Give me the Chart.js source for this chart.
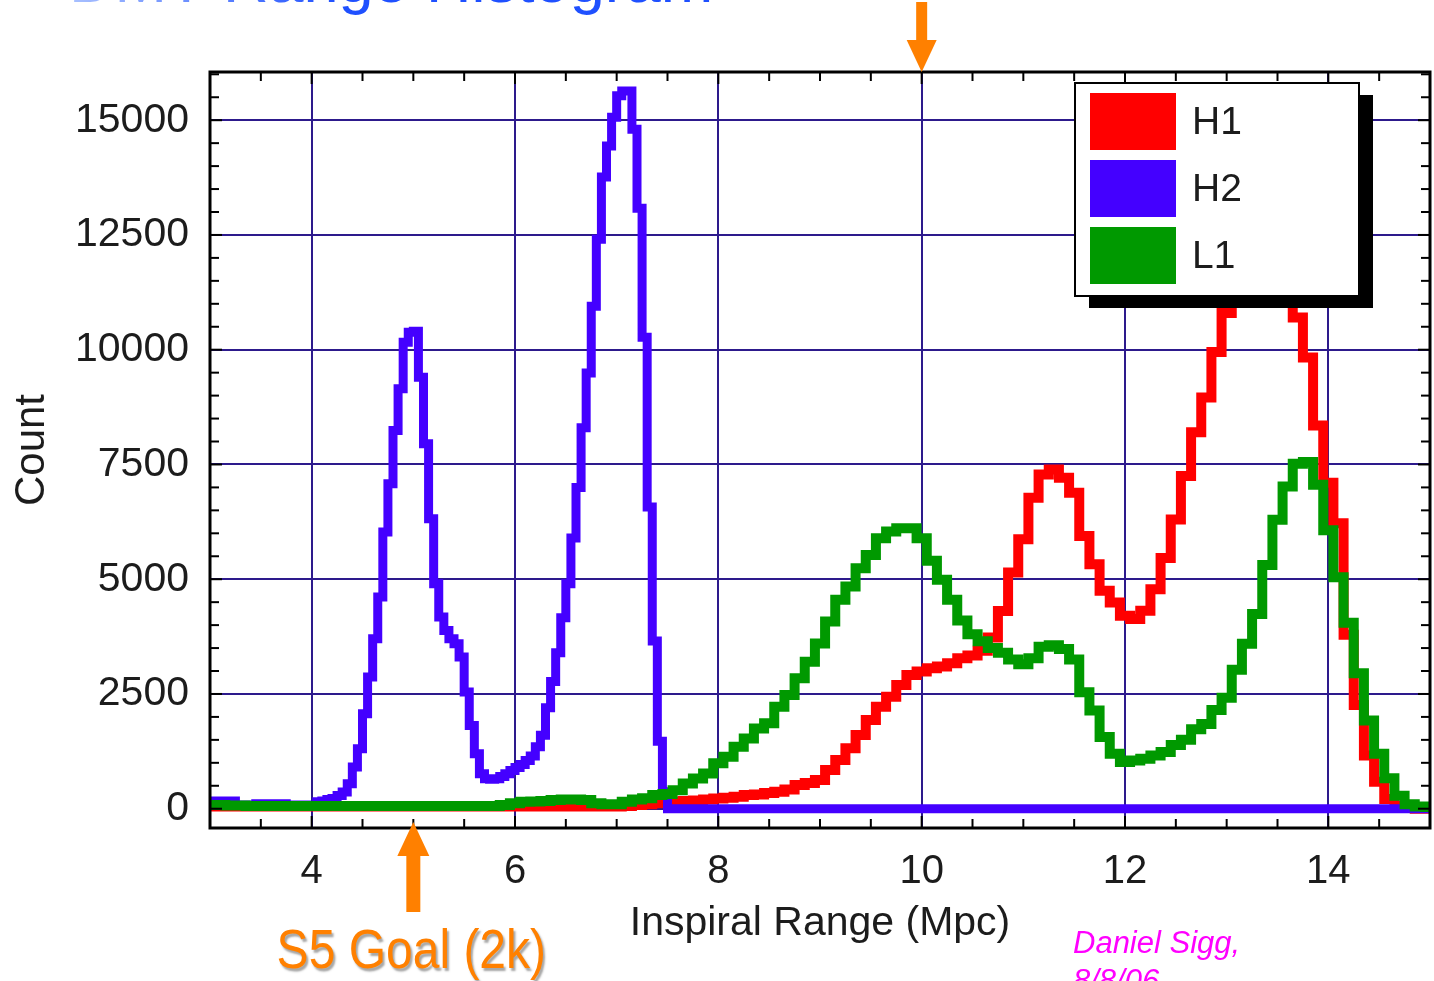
<!DOCTYPE html>
<html>
<head>
<meta charset="utf-8">
<script src="https://cdn.jsdelivr.net/npm/chart.js@4.4.0/dist/chart.umd.min.js"></script>
<style>
html, body { margin: 0; padding: 0; background: #fff; }
#wrap { width: 1434px; height: 981px; }
</style>
</head>
<body>
<div id="wrap"><canvas id="rangeChart" width="1434" height="981"></canvas></div>
<script>
// bins: H1 and L1 are 0.1 Mpc wide, H2 is 0.05 Mpc wide
var h1Start = 2.95, h1Bin = 0.1;
var h1Counts = [
    50, 50, 50, 50, 50, 50, 50, 50, 50, 50,
    50, 50, 50, 50, 50, 50, 50, 50, 50, 50,
    50, 50, 50, 50, 50, 50, 50, 50, 50, 50,
    50, 50, 50, 50, 50, 50, 50, 50, 50, 50,
    50, 60, 80, 100, 120, 140, 160, 170, 180, 200,
    225, 240, 260, 300, 310, 340, 370, 420, 516, 560,
    625, 843, 1061, 1315, 1606, 1933, 2224, 2442, 2696, 2914,
    2987, 3059, 3096, 3168, 3280, 3340, 3440, 3730, 4310, 5145,
    5870, 6775, 7283, 7391, 7210, 6884, 5942, 5326, 4747, 4493,
    4203, 4131, 4312, 4780, 5460, 6300, 7250, 8200, 8960, 9950,
    10800, 11300, 11700, 12000, 12100, 12000, 11700, 10700, 9830, 8350,
    7100, 6220, 3790, 2260, 1160, 590, 210, 60, 20, 0,
    0
];

var l1Start = 2.95, l1Bin = 0.1;
var l1Counts = [
    80, 80, 70, 70, 60, 60, 60, 60, 60, 60,
    60, 60, 60, 60, 60, 60, 60, 60, 60, 60,
    60, 60, 60, 60, 60, 60, 60, 60, 60, 80,
    120, 150, 160, 170, 190, 200, 200, 190, 120, 100,
    100, 150, 200, 230, 300, 320, 400, 550, 660, 770,
    990, 1130, 1350, 1530, 1750, 1860, 2220, 2480, 2840, 3200,
    3600, 4080, 4550, 4840, 5240, 5530, 5890, 6040, 6110, 6110,
    5890, 5400, 4990, 4550, 4100, 3800, 3650, 3500, 3400, 3250,
    3150, 3280, 3530, 3560, 3480, 3250, 2540, 2140, 1560, 1200,
    1020, 1050, 1090, 1160, 1237, 1389, 1503, 1731, 1845, 2150,
    2416, 3025, 3596, 4243, 5308, 6297, 7020, 7515, 7553, 7058,
    6069, 5041, 4052, 2949, 1921, 1199, 666, 285, 95, 50,
    40
];

var h2Start = 3.0, h2Bin = 0.05;
var h2Counts = [
    170, 170, 170, 170, 170, 80, 80, 80, 80, 110,
    110, 110, 110, 110, 110, 80, 80, 80, 80, 80,
    80, 150, 170, 200, 225, 290, 363, 545, 908, 1307,
    2069, 2868, 3703, 4610, 6026, 7079, 8240, 9148, 10164, 10382,
    10400, 9402, 7950, 6316, 4900, 4175, 3883, 3703, 3594, 3303,
    2541, 1815, 1198, 762, 653, 640, 653, 700, 760, 830,
    900, 966, 1050, 1150, 1350, 1600, 2200, 2770, 3400, 4160,
    4900, 5900, 7000, 8300, 9490, 10948, 12407, 13760, 14438, 15063,
    15532, 15636, 15636, 14802, 13084, 10271, 6573, 3656, 1469, 370
];
var h2Tail = 0;   // flat from 7.5 Mpc to the end

var xTicks = [4, 6, 8, 10, 12, 14];
var yTicks = [0, 2500, 5000, 7500, 10000, 12500, 15000];

var gridColor = '#2d1a8c';
var textColor = '#1c1c1c';
var orange = '#ff8000';

Chart.defaults.font.family = "'Liberation Sans', Arial, sans-serif";

function steps(start, width, counts) {
    var pts = counts.map(function (c, i) { return { x: start + i * width, y: c }; });
    pts.push({ x: start + counts.length * width, y: counts[counts.length - 1] });
    return pts;
}

var h2Points = steps(h2Start, h2Bin, h2Counts);
h2Points[h2Points.length - 1].y = h2Tail;
h2Points.push({ x: 15, y: h2Tail });

function line(ctx, x1, y1, x2, y2) {
    ctx.beginPath();
    ctx.moveTo(x1, y1);
    ctx.lineTo(x2, y2);
    ctx.stroke();
}

function arrow(ctx, x, tipY, baseY, endY, headHalf, shaftHalf) {
    ctx.fillStyle = orange;
    ctx.beginPath();
    ctx.moveTo(x, tipY);
    ctx.lineTo(x - headHalf, baseY);
    ctx.lineTo(x + headHalf, baseY);
    ctx.closePath();
    ctx.fill();
    ctx.fillRect(x - shaftHalf, Math.min(baseY, endY), shaftHalf * 2, Math.abs(endY - baseY));
}

var decor = {
    id: 'decor',
    beforeDraw: function (chart) {
        var ctx = chart.ctx;
        ctx.save();
        ctx.fillStyle = '#fff';
        ctx.fillRect(0, 0, chart.width, chart.height);
        ctx.restore();
    },
    afterDatasetsDraw: function (chart) {
        var ctx = chart.ctx, a = chart.chartArea;
        var xs = chart.scales.x, ys = chart.scales.y;
        ctx.save();

        // minor ticks on all four sides
        ctx.strokeStyle = '#000';
        ctx.lineWidth = 2;
        for (var v = 3.5; v < 15; v += 0.5) {
            var px = xs.getPixelForValue(v);
            var len = (v % 2 === 0) ? 12 : 9;
            line(ctx, px, a.top, px, a.top + len);
            line(ctx, px, a.bottom, px, a.bottom - len);
        }
        for (var w = 0; w <= 16000; w += 500) {
            var py = ys.getPixelForValue(w);
            var l2 = (w % 2500 === 0) ? 12 : 9;
            line(ctx, a.left, py, a.left + l2, py);
            line(ctx, a.right, py, a.right - l2, py);
        }

        // frame
        ctx.lineWidth = 3;
        ctx.strokeRect(a.left, a.top, a.right - a.left, a.bottom - a.top);

        // legend with drop shadow
        var bx = a.right - 355, by = a.top + 11, bw = 284, bh = 213;
        ctx.fillStyle = '#000';
        ctx.fillRect(bx + 14, by + 12, bw, bh);
        ctx.fillStyle = '#fff';
        ctx.fillRect(bx, by, bw, bh);
        ctx.lineWidth = 2;
        ctx.strokeRect(bx, by, bw, bh);
        ctx.font = "39px 'Liberation Sans', Arial, sans-serif";
        ctx.textBaseline = 'middle';
        ctx.textAlign = 'left';
        chart.data.datasets.forEach(function (ds, i) {
            var sy = by + 10 + i * 67;
            ctx.fillStyle = ds.borderColor;
            ctx.fillRect(bx + 15, sy, 86, 57);
            ctx.fillStyle = textColor;
            ctx.fillText(ds.label, bx + 117, sy + 30);
        });
        ctx.restore();
    },
    afterDraw: function (chart) {
        var ctx = chart.ctx, a = chart.chartArea;
        var xs = chart.scales.x;
        ctx.save();

        // slide title, mostly cut off at the top
        var g = ctx.createLinearGradient(69, 0, 340, 0);
        g.addColorStop(0, '#a9c1ff');
        g.addColorStop(1, '#1f50ff');
        ctx.fillStyle = g;
        ctx.font = "63px 'Liberation Sans', Arial, sans-serif";
        ctx.textBaseline = 'alphabetic';
        ctx.textAlign = 'left';
        ctx.fillText('DMT Range Histogram', 69, 2);

        // arrows
        var x10 = xs.getPixelForValue(10);
        arrow(ctx, x10, a.top, a.top - 32, 2, 15, 5.5);
        var x5 = xs.getPixelForValue(5);
        arrow(ctx, x5, a.bottom - 6, a.bottom + 28, 912, 16, 7);

        // S5 goal label
        ctx.save();
        ctx.translate(x5 - 2, 968);
        ctx.scale(1, 1.15);
        ctx.font = "48px 'Liberation Sans', Arial, sans-serif";
        ctx.textAlign = 'center';
        ctx.shadowColor = 'rgba(0,0,0,0.35)';
        ctx.shadowOffsetX = 2;
        ctx.shadowOffsetY = 3;
        ctx.shadowBlur = 2;
        ctx.fillStyle = orange;
        ctx.fillText('S5 Goal (2k)', 0, 0);
        ctx.restore();

        // author note
        ctx.fillStyle = '#ff00ff';
        ctx.font = "italic 31px 'Liberation Sans', Arial, sans-serif";
        ctx.textAlign = 'left';
        ctx.fillText('Daniel Sigg,', 1073, 953);
        ctx.fillText('8/8/06', 1073, 991);
        ctx.restore();
    }
};

var ctx = document.getElementById('rangeChart').getContext('2d');
new Chart(ctx, {
    type: 'line',
    data: {
        datasets: [
            { label: 'H1', data: steps(h1Start, h1Bin, h1Counts), borderColor: '#ff0000', borderWidth: 10, order: 2 },
            { label: 'H2', data: h2Points, borderColor: '#4400ff', borderWidth: 9, order: 1 },
            { label: 'L1', data: steps(l1Start, l1Bin, l1Counts), borderColor: '#009900', borderWidth: 10, order: 0 }
        ].map(function (ds) {
            ds.stepped = true;
            ds.pointRadius = 0;
            ds.fill = false;
            ds.clip = 0;
            ds.borderJoinStyle = 'miter';
            ds.borderCapStyle = 'butt';
            return ds;
        })
    },
    options: {
        responsive: false,
        animation: false,
        devicePixelRatio: 1,
        layout: { padding: { top: 72, right: 4, left: 0, bottom: 0 } },
        plugins: {
            legend: { display: false },
            tooltip: { enabled: false }
        },
        scales: {
            x: {
                type: 'linear',
                min: 3,
                max: 15,
                afterBuildTicks: function (s) { s.ticks = xTicks.map(function (v) { return { value: v }; }); },
                afterFit: function (s) { s.height = 153; },
                grid: { color: gridColor, lineWidth: 2, drawTicks: false },
                border: { display: false },
                ticks: {
                    padding: 20, color: textColor, maxRotation: 0,
                    font: { size: 40 },
                    callback: function (v) { return String(v); }
                },
                title: {
                    display: true, text: 'Inspiral Range (Mpc)', color: textColor,
                    font: { size: 41 }, padding: { top: 0, bottom: 33 }
                }
            },
            y: {
                min: -420,
                max: 16050,
                afterBuildTicks: function (s) { s.ticks = yTicks.map(function (v) { return { value: v }; }); },
                afterFit: function (s) { s.width = 210; },
                grid: { color: gridColor, lineWidth: 2, drawTicks: false },
                border: { display: false },
                ticks: {
                    padding: 21, color: textColor,
                    font: { size: 41 },
                    callback: function (v) { return String(v); }
                },
                title: {
                    display: true, text: 'Count', color: textColor,
                    font: { size: 42 }, padding: { top: 7, bottom: 0 }
                }
            }
        }
    },
    plugins: [decor]
});
</script>
</body>
</html>
